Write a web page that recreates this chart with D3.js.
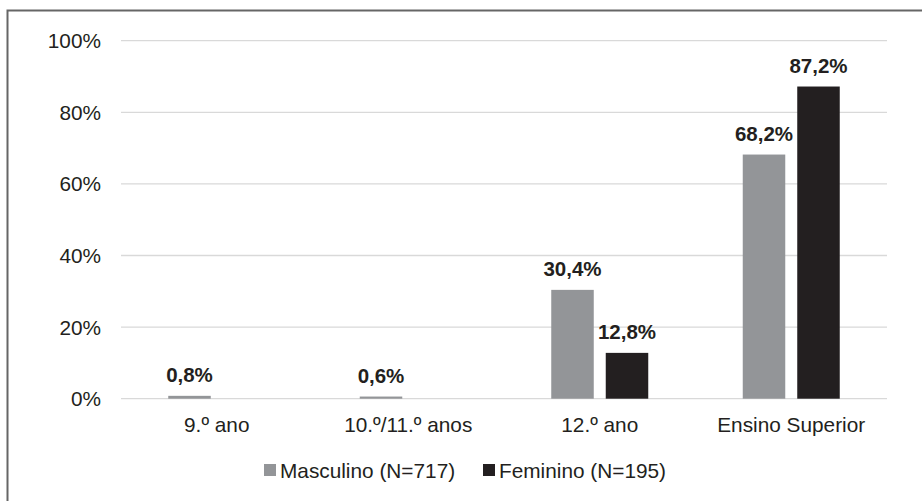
<!DOCTYPE html>
<html><head><meta charset="utf-8">
<script src="https://cdn.jsdelivr.net/npm/d3@7"></script>
<style>body{margin:0;background:#fff}svg{display:block}</style>
</head><body>
<svg id="c" width="922" height="501"></svg>
<script>
const categories = ["9.º ano", "10.º/11.º anos", "12.º ano", "Ensino Superior"];
const seriesNames = ["Masculino (N=717)", "Feminino (N=195)"];
const masculino = [0.8, 0.6, 30.4, 68.2];
const feminino = [null, null, 12.8, 87.2];
const yTicks = [0, 20, 40, 60, 80, 100];
const colors = ["#939598", "#231f20"];

(function () {
const svg = d3.select("#c");
const font = "'Liberation Sans', Arial, Helvetica, sans-serif";
const textColor = "#231f20";
const fs = 20.8, fsb = 20.5;

// frame
svg.append("rect").attr("x", 7.5).attr("y", 10.5).attr("width", 930).attr("height", 510)
  .attr("fill", "none").attr("stroke", "#666").attr("stroke-width", 2);

const pLeft = 121, pRight = 887, pTop = 40.7, pBottom = 398.7;
const y = d3.scaleLinear().domain([0, 100]).range([pBottom, pTop]);
const x0 = d3.scaleBand().domain(categories).range([pLeft, pRight]).padding(0);
const x1 = d3.scaleBand().domain(seriesNames).range([0, x0.bandwidth()])
  .paddingInner(0.22).paddingOuter(0.867);

// gridlines
svg.append("g").selectAll("line").data(yTicks).join("line")
  .attr("x1", pLeft).attr("x2", pRight)
  .attr("y1", d => y(d)).attr("y2", d => y(d))
  .attr("stroke", "#d9d9d9").attr("stroke-width", 1.3);

// y tick labels
svg.append("g").selectAll("text").data(yTicks).join("text")
  .attr("x", 101).attr("y", d => y(d)).attr("dy", "0.36em")
  .attr("text-anchor", "end").attr("font-family", font).attr("font-size", fs)
  .attr("fill", textColor).text(d => d + "%");

const data = [masculino, feminino];
data.forEach((vals, si) => {
  const g = svg.append("g");
  const pts = categories.map((c, i) => ({c, v: vals[i]})).filter(d => d.v != null);
  g.selectAll("rect").data(pts).join("rect")
    .attr("x", d => x0(d.c) + x1(seriesNames[si]))
    .attr("width", x1.bandwidth())
    .attr("y", d => y(d.v))
    .attr("height", d => y(0) - y(d.v))
    .attr("fill", colors[si]);
  g.selectAll("text").data(pts).join("text")
    .attr("x", d => x0(d.c) + x1(seriesNames[si]) + x1.bandwidth() / 2)
    .attr("y", d => y(d.v) - 14)
    .attr("text-anchor", "middle").attr("font-family", font).attr("font-size", fsb)
    .attr("font-weight", "bold").attr("fill", textColor)
    .text(d => d.v.toFixed(1).replace(".", ",") + "%");
});

// x category labels
svg.append("g").selectAll("text").data(categories).join("text")
  .attr("x", d => x0(d) + x0.bandwidth() / 2).attr("y", 432)
  .attr("text-anchor", "middle").attr("font-family", font).attr("font-size", fs)
  .attr("fill", textColor).text(d => d);

// legend
const legendX = [264, 483];
const lg = svg.append("g");
seriesNames.forEach((s, i) => {
  lg.append("rect").attr("x", legendX[i]).attr("y", 464).attr("width", 12).attr("height", 12)
    .attr("fill", colors[i]);
  lg.append("text").attr("x", legendX[i] + 16).attr("y", 478)
    .attr("font-family", font).attr("font-size", fs).attr("fill", textColor).text(s);
});
})();
</script>
</body></html>
